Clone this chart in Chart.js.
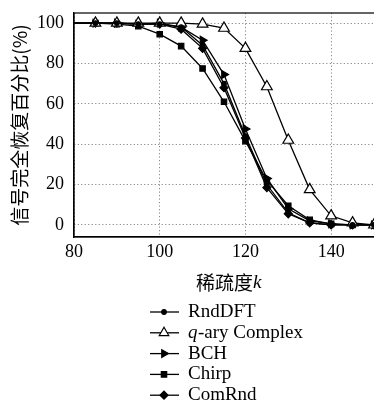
<!DOCTYPE html>
<html>
<head>
<meta charset="utf-8">
<script src="https://cdn.jsdelivr.net/npm/chart.js@4/dist/chart.umd.min.js"></script>
<style>
  html, body { margin: 0; padding: 0; background: #fff; }
  #wrap { width: 374px; height: 405px; position: relative; }
</style>
</head>
<body>
<div id="wrap"><canvas id="c"></canvas></div>
<script>
// sparsity k and recovery percentage per scheme
var kValues = [80, 85, 90, 95, 100, 105, 110, 115, 120, 125, 130, 135, 140, 145, 150];
var rndDFT  = [100, 100, 100, 99.5, 99.5, 98, 89, 70, 44, 20, 6, 1, 0, 0, 0];
var qary    = [100, 100, 100, 100, 100, 100, 99.5, 97.5, 87.5, 68.5, 42, 17.5, 4.5, 1, 0];
var bch     = [100, 100, 100, 99.5, 100, 98, 91.5, 74.5, 47.5, 23, 8, 2, 0.5, 0, 0];
var chirp   = [100, 100, 99.5, 98.5, 94.5, 88.6, 77.5, 61, 41.5, 22, 9.5, 2.5, 0.5, 0, 0];
var comRnd  = [100, 100, 100, 99.5, 99.5, 97, 87.5, 68, 43, 18.5, 5.5, 1, 0, 0, 0];
var xTicks = [80, 100, 120, 140];
var yTicks = [0, 20, 40, 60, 80, 100];

var serif = '"Liberation Serif", "DejaVu Serif", serif';
var cjk = '"Noto Sans CJK SC", "Noto Sans CJK JP", sans-serif';

function series(label, values, style, radius, rotation, fill) {
    return {
        label: label,
        data: kValues.map(function(k, i) { return {x: k, y: values[i]}; }),
        borderColor: '#000',
        borderWidth: 1.3,
        backgroundColor: fill,
        pointBackgroundColor: fill,
        pointBorderColor: '#000',
        pointBorderWidth: 1.2,
        pointStyle: style,
        pointRotation: rotation,
        legendRadius: radius,
        pointRadius: function(ctx) { return ctx.dataIndex === 0 ? 0 : radius; },
        tension: 0
    };
}

var datasets = [
    series('RndDFT', rndDFT, 'circle', 2.3, 0, '#000'),
    series('q-ary Complex', qary, 'triangle', 6.2, 0, '#fff'),
    series('BCH', bch, 'triangle', 4.5, 90, '#000'),
    series('Chirp', chirp, 'rect', 3.8, 0, '#000'),
    series('ComRnd', comRnd, 'rectRot', 4, 0, '#000')
];

// frame line, x title with italic k, and line+marker legend
var decor = {
    id: 'decor',
    afterDraw: function(chart) {
        var c = chart.ctx, a = chart.chartArea;
        c.save();
        c.strokeStyle = '#000';
        c.lineWidth = 1.2;
        c.strokeRect(a.left, a.top, a.right - a.left + 5, a.bottom - a.top);

        c.fillStyle = '#000';
        c.textBaseline = 'middle';
        c.font = '19px ' + cjk;
        c.textAlign = 'left';
        c.fillText('稀疏度', 196, 283);
        c.font = 'italic 19px ' + serif;
        c.fillText('k', 253, 283);

        var y0 = 312, step = 20.8;
        chart.data.datasets.forEach(function(ds, i) {
            var y = y0 + i * step;
            c.strokeStyle = '#000';
            c.lineWidth = 1.3;
            c.beginPath();
            c.moveTo(150, y);
            c.lineTo(179, y);
            c.stroke();
            c.fillStyle = ds.pointBackgroundColor;
            c.strokeStyle = '#000';
            c.lineWidth = 1.2;
            Chart.helpers.drawPoint(c, {
                pointStyle: ds.pointStyle,
                rotation: ds.pointRotation,
                radius: Math.min(ds.legendRadius, 5.5),
                borderWidth: 1.2
            }, 164, y);
            c.fillStyle = '#000';
            c.textAlign = 'left';
            if (ds.label === 'q-ary Complex') {
                c.font = 'italic 19px ' + serif;
                c.fillText('q', 188, y);
                c.font = '19px ' + serif;
                c.fillText('-ary Complex', 198, y);
            } else {
                c.font = '19px ' + serif;
                c.fillText(ds.label, 188, y);
            }
        });
        c.restore();
    }
};

new Chart(document.getElementById('c'), {
    type: 'line',
    data: { datasets: datasets },
    options: {
        responsive: true,
        maintainAspectRatio: false,
        animation: false,
        layout: { autoPadding: false, padding: { top: 13, right: 0, bottom: 108, left: 8 } },
        plugins: { legend: { display: false }, tooltip: { enabled: false } },
        scales: {
            x: {
                type: 'linear',
                min: 80,
                max: 150,
                afterBuildTicks: function(s) { s.ticks = xTicks.map(function(v) { return {value: v}; }); },
                afterFit: function(s) { s.height = 60; s.paddingRight = 0; s.paddingLeft = 0; },
                ticks: { color: '#000', font: { family: serif, size: 18 }, padding: 4, maxRotation: 0 },
                grid: { color: '#888', lineWidth: 1, drawTicks: false },
                border: { display: true, color: '#000', width: 1.2, dash: [1.2, 2.3] }
            },
            y: {
                min: -6,
                max: 105,
                afterBuildTicks: function(s) { s.ticks = yTicks.map(function(v) { return {value: v}; }); },
                afterFit: function(s) { s.width = 66; s.paddingTop = 0; s.paddingBottom = 0; },
                ticks: { color: '#000', font: { family: serif, size: 18 }, padding: 10 },
                grid: { color: '#888', lineWidth: 1, drawTicks: false },
                border: { display: true, color: '#000', width: 1.2, dash: [1.2, 2.3] },
                title: { display: true, text: '信号完全恢复百分比(%)', color: '#000', font: { family: cjk, size: 19 }, padding: { top: 0, bottom: 2 } }
            }
        }
    },
    plugins: [decor]
});
</script>
</body>
</html>
